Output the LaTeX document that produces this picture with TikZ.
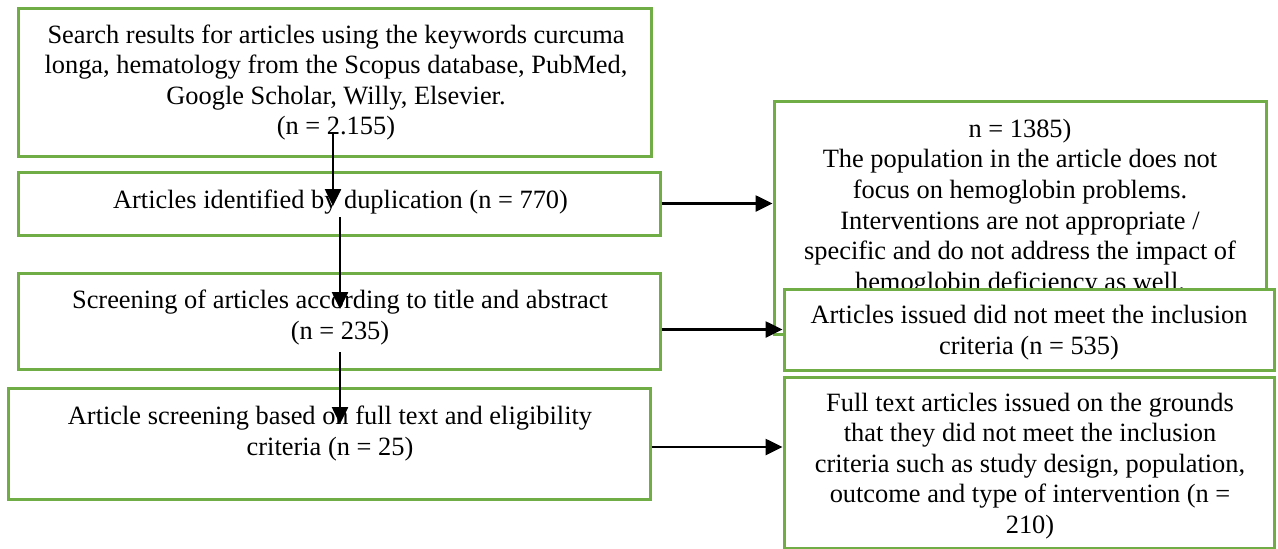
\documentclass[tikz,border=0pt]{standalone}
\usepackage{fontspec}
\setmainfont{Liberation Serif}
\usetikzlibrary{arrows.meta}
\definecolor{boxgreen}{RGB}{112,173,71}
\begin{document}
\begin{tikzpicture}[x=1pt,y=-1pt,
  box/.style={draw=boxgreen, line width=3pt, fill=white, inner sep=0pt},
  txt/.style={align=center, font=\fontsize{26.4}{30.6}\selectfont, inner sep=0pt},
  arr/.style={-{Triangle[length=17pt,width=16pt]}, line width=2.6pt}]
\useasboundingbox (0,0) rectangle (1278,549);
% left column
\node[box, minimum width=633pt, minimum height=148pt] (b1) at (334.5,82) {};
\node[txt] (t1) at (336,82.5) {Search results for articles using the keywords curcuma\\longa, hematology from the Scopus database, PubMed,\\Google Scholar, Willy, Elsevier.\\(n = 2.155)};
\node[box, minimum width=642pt, minimum height=63pt] (b2) at (339,203.5) {};
\node[txt] (t2) at (340.5,202) {Articles identified by duplication (n = 770)};
\node[box, minimum width=642pt, minimum height=96pt] (b3) at (339,321) {};
\node[txt] (t3) at (340,317.5) {Screening of articles according to title and abstract\\(n = 235)};
\node[box, minimum width=642pt, minimum height=111pt] (b4) at (329,443.5) {};
\node[txt] (t4) at (330,433.5) {Article screening based on full text and eligibility\\criteria (n = 25)};
% right column
\node[box, minimum width=492pt, minimum height=233pt] (r1) at (1020,217.5) {};
\node[txt] (t5) at (1020,207.5) {n = 1385)\\The population in the article does not\\focus on hemoglobin problems.\\Interventions are not appropriate /\\specific and do not address the impact of\\hemoglobin deficiency as well.};
\node[box, minimum width=490pt, minimum height=81pt] (r2) at (1029,329.5) {};
\node[txt] (t6) at (1029,332.5) {Articles issued did not meet the inclusion\\criteria (n = 535)};
\node[box, minimum width=490pt, minimum height=171pt] (r3) at (1029,462.5) {};
\node[txt] (t7) at (1030,466) {Full text articles issued on the grounds\\that they did not meet the inclusion\\criteria such as study design, population,\\outcome and type of intervention (n =\\210)};
% vertical arrows
\coordinate (a1s) at (333,132);
\coordinate (a1e) at (333,206);
\coordinate (a2s) at (340,217);
\coordinate (a2e) at (340,309);
\coordinate (a3s) at (340,352);
\coordinate (a3e) at (340,424);
\draw[arr] (a1s) -- (a1e);
\draw[arr] (a2s) -- (a2e);
\draw[arr] (a3s) -- (a3e);
% horizontal arrows
\coordinate (a4s) at ([yshift=-3.5pt]b4.east);
\draw[arr] (b2.east) -- (r1.west |- b2.east);
\draw[arr] (b3.east |- r2.west) -- (r2.west);
\draw[arr] (a4s) -- (r3.west |- a4s);
\end{tikzpicture}
\end{document}
